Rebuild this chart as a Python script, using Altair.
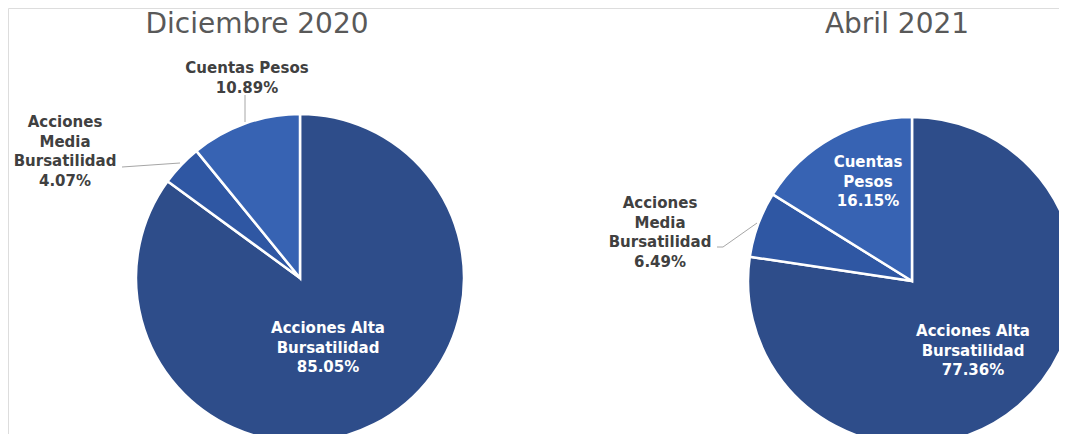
import altair as alt
import pandas as pd

# ---- data ----
categories = ["Acciones Alta Bursatilidad", "Acciones Media Bursatilidad", "Cuentas Pesos"]
dic2020_values = [85.05, 4.07, 10.89]
abr2021_values = [77.36, 6.49, 16.15]
titles = ["Diciembre 2020", "Abril 2021"]

# label text lines (split as in the reference)
dic2020_label_lines = [["Acciones Alta", "Bursatilidad"], ["Acciones", "Media", "Bursatilidad"], ["Cuentas Pesos"]]
abr2021_label_lines = [["Acciones Alta", "Bursatilidad"], ["Acciones", "Media", "Bursatilidad"], ["Cuentas", "Pesos"]]

colors = ["#2E4D8A", "#2F57A3", "#3763B3"]

# ---- layout (styles) ----
W, H = 1051, 426
R = 164
centers = [(292, 270), (904, 273)]
title_pos = [(249, 17), (889, 17)]
label_pos = [
    [(320, 320, "white"), (57, 114, "#404040"), (239, 60, "#404040")],
    [(965, 323, "white"), (652, 195, "#404040"), (860, 154, "white")],
]
leaders = [
    [(237, 87, 237, 114), (114, 159, 172, 155)],
    [(709, 239, 715, 239), (715, 239, 749, 215)],
]


def pie(values, center):
    df = pd.DataFrame({"category": categories, "value": values, "ord": list(range(len(values)))})
    return alt.Chart(df).mark_arc(outerRadius=R, stroke="white", strokeWidth=2.5).encode(
        theta=alt.Theta("value:Q", stack=True),
        color=alt.Color("category:N", scale=alt.Scale(domain=categories, range=colors), legend=None),
        order=alt.Order("ord:Q"),
        x=alt.value(center[0]),
        y=alt.value(center[1]),
    )


def labels(values, lines, positions):
    layers = []
    for v, ln, (x, y, col) in zip(values, lines, positions):
        text = "\n".join(ln + [f"{v:.2f}%"])
        d = pd.DataFrame({"t": [text]})
        layers.append(
            alt.Chart(d).mark_text(
                font="DejaVu Sans", fontSize=15, fontWeight="bold", color=col,
                align="center", baseline="middle", lineBreak="\n", lineHeight=19.5,
            ).encode(text="t:N", x=alt.value(x), y=alt.value(y))
        )
    return layers


def leader_layers(segs):
    out = []
    for (x1, y1, x2, y2) in segs:
        d = pd.DataFrame({"k": [0]})
        out.append(
            alt.Chart(d).mark_rule(color="#A6A6A6", strokeWidth=1).encode(
                x=alt.value(x1), y=alt.value(y1), x2=alt.value(x2), y2=alt.value(y2)
            )
        )
    return out


def title_layer(t, pos):
    d = pd.DataFrame({"t": [t]})
    return alt.Chart(d).mark_text(
        font="DejaVu Sans", fontSize=28, color="#595959", align="center", baseline="middle"
    ).encode(text="t:N", x=alt.value(pos[0]), y=alt.value(pos[1]))


layers = []
layers.append(pie(dic2020_values, centers[0]))
layers.append(pie(abr2021_values, centers[1]))
layers += leader_layers(leaders[0]) + leader_layers(leaders[1])
layers += labels(dic2020_values, dic2020_label_lines, label_pos[0])
layers += labels(abr2021_values, abr2021_label_lines, label_pos[1])
layers.append(title_layer(titles[0], title_pos[0]))
layers.append(title_layer(titles[1], title_pos[1]))

chart = alt.layer(*layers).resolve_scale(theta="independent").properties(
    width=W, height=H, autosize="none", padding=0
).configure_view(strokeWidth=0, stroke="transparent").configure(background="white")

chart.save("out.html", embed_options={"renderer": "svg", "actions": False})
